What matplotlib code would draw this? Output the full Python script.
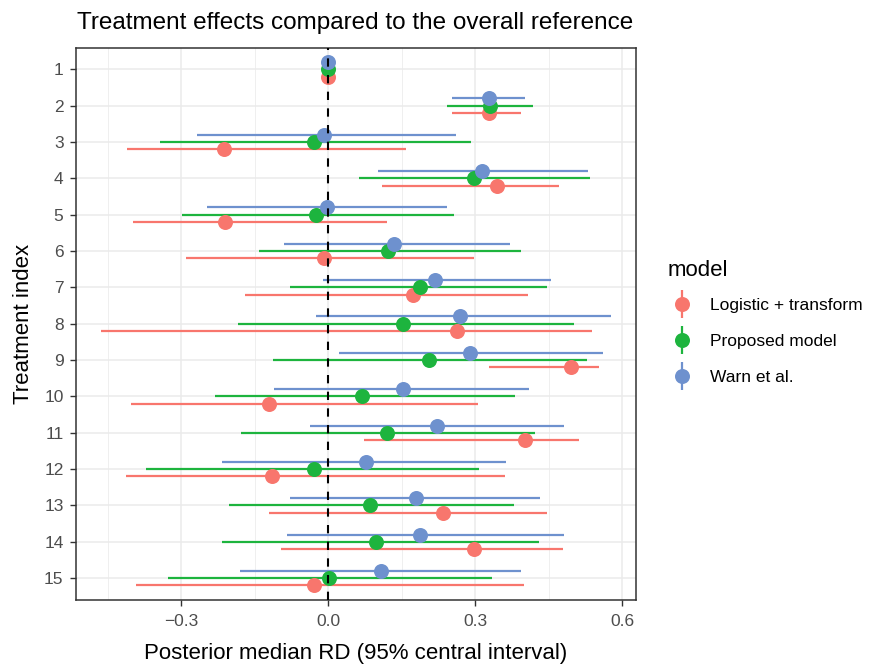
import matplotlib
matplotlib.use("Agg")
import matplotlib.pyplot as plt
from matplotlib.lines import Line2D
from matplotlib.legend_handler import HandlerTuple
import numpy as np

plt.rcParams["font.family"] = ["Liberation Sans", "DejaVu Sans"]

treatments = list(range(1, 16))
models = ["Logistic + transform", "Proposed model", "Warn et al."]
colors = ["#F8766D", "#1DB43E", "#6E91CE"]

# Posterior medians and 95% central intervals for each model
logistic_med = [0.0, 0.327, -0.213, 0.344, -0.211, -0.008, 0.173, 0.262, 0.495, -0.121, 0.401, -0.115, 0.234, 0.298, -0.030]
logistic_lo = [0.0, 0.252, -0.411, 0.110, -0.398, -0.291, -0.170, -0.463, 0.327, -0.402, 0.073, -0.412, -0.121, -0.096, -0.392]
logistic_hi = [0.0, 0.393, 0.159, 0.470, 0.119, 0.297, 0.408, 0.538, 0.553, 0.305, 0.511, 0.361, 0.447, 0.479, 0.400]

proposed_med = [0.0, 0.330, -0.029, 0.298, -0.025, 0.121, 0.187, 0.153, 0.206, 0.069, 0.120, -0.029, 0.085, 0.098, 0.002]
proposed_lo = [0.0, 0.242, -0.343, 0.062, -0.298, -0.142, -0.078, -0.184, -0.112, -0.231, -0.179, -0.373, -0.202, -0.217, -0.327]
proposed_hi = [0.0, 0.418, 0.291, 0.534, 0.256, 0.393, 0.447, 0.502, 0.527, 0.382, 0.421, 0.308, 0.378, 0.430, 0.334]

warn_med = [0.0, 0.327, -0.008, 0.314, -0.003, 0.134, 0.218, 0.268, 0.290, 0.153, 0.221, 0.077, 0.178, 0.188, 0.108]
warn_lo = [0.0, 0.252, -0.268, 0.101, -0.248, -0.091, -0.011, -0.026, 0.022, -0.111, -0.037, -0.218, -0.078, -0.085, -0.181]
warn_hi = [0.0, 0.402, 0.261, 0.530, 0.243, 0.371, 0.455, 0.576, 0.561, 0.410, 0.482, 0.363, 0.433, 0.480, 0.394]

x_ticks = [-0.3, 0.0, 0.3, 0.6]
x_tick_labels = ["\u22120.3", "0.0", "0.3", "0.6"]

series = [
    (logistic_med, logistic_lo, logistic_hi),
    (proposed_med, proposed_lo, proposed_hi),
    (warn_med, warn_lo, warn_hi),
]
offsets = [0.2, 0.0, -0.2]

fig = plt.figure(figsize=(8.72, 6.65), dpi=100)
ax = fig.add_axes([76 / 872, 1 - 600 / 665, (636 - 76) / 872, (600 - 47.5) / 665])

ypos = np.array(treatments, dtype=float)
for (med, lo, hi), off, col in zip(series, offsets, colors):
    ax.hlines(ypos + off, lo, hi, color=col, lw=1.6, zorder=3)
    ax.plot(med, ypos + off, "o", color=col, ms=10.8, mec="none", zorder=4)

ax.axvline(0, color="black", lw=1.5, ls=(0, (4, 4)), zorder=5)

all_vals = np.concatenate([logistic_lo, logistic_hi, proposed_lo, proposed_hi, warn_lo, warn_hi])
span = all_vals.max() - all_vals.min()
ax.set_xlim(all_vals.min() - 0.05 * span, all_vals.max() + 0.05 * span)
ax.set_ylim(15.6, 0.4)

ax.set_xticks(x_ticks)
ax.set_xticklabels(x_tick_labels)
ax.set_xticks([-0.45, -0.15, 0.15, 0.45], minor=True)
ax.set_yticks(treatments)
ax.set_yticklabels([str(t) for t in treatments])

ax.grid(True, which="major", color="#EBEBEB", lw=1.1, zorder=0)
ax.grid(True, which="minor", axis="x", color="#EBEBEB", lw=0.55, zorder=0)
ax.set_axisbelow(True)
ax.tick_params(which="major", length=4, width=1.0, color="#333333",
               labelcolor="#4D4D4D", labelsize=12.5)
ax.tick_params(axis="x", which="major", pad=6)
ax.tick_params(axis="y", which="major", pad=5)
ax.tick_params(which="minor", length=0)
for s in ax.spines.values():
    s.set_color("#333333")
    s.set_linewidth(1.1)

ax.set_xlabel("Posterior median RD (95% central interval)", fontsize=16, labelpad=10)
ax.set_ylabel("Treatment index", fontsize=16, labelpad=7)
fig.text(77 / 872, 1 - 29 / 665, "Treatment effects compared to the overall reference",
         fontsize=17.5, ha="left", va="baseline")

handles = []
for col in colors:
    bar = Line2D([], [], color=col, marker="|", ms=20, mew=1.6, ls="none")
    dot = Line2D([], [], color=col, marker="o", ms=10.8, mec="none", ls="none")
    handles.append((bar, dot))
leg = fig.legend(handles, models, handler_map={tuple: HandlerTuple(ndivide=1)},
                 loc="upper left", bbox_to_anchor=(652 / 872, 1 - 244 / 665),
                 frameon=False, title="model", fontsize=12.5, title_fontsize=16,
                 labelspacing=1.2, handlelength=1.6, handletextpad=0.85)
leg._legend_box.align = "left"
leg._legend_box.sep = 12.3

fig.savefig("out.png", dpi=100)
